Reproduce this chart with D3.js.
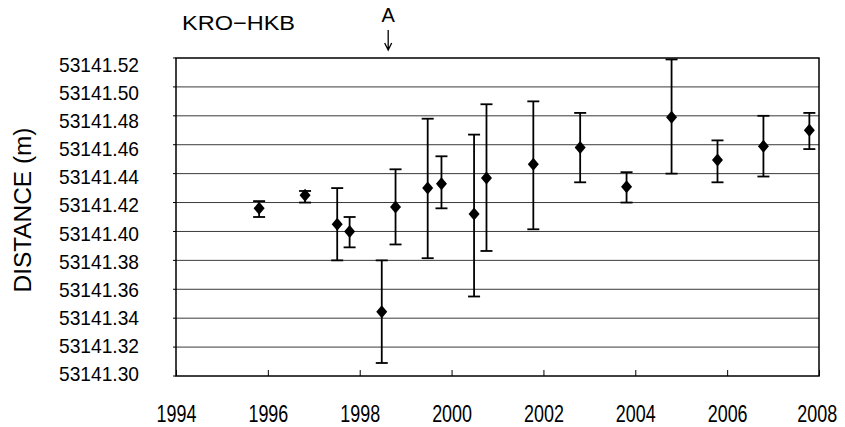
<!DOCTYPE html>
<html>
<head>
<meta charset="utf-8">
<script src="https://cdn.jsdelivr.net/npm/d3@7"></script>
<style>
  body { margin: 0; background: #fff; }
  svg { display: block; }
  text { font-family: "Liberation Sans", Arial, sans-serif; fill: #000; }
</style>
</head>
<body>
<svg id="chart" width="845" height="427"></svg>
<script>
// survey epochs (decimal year) and measured distance with error range
const years = [1995.81, 1996.81, 1997.51, 1997.78, 1998.48, 1998.78, 1999.48, 1999.78, 2000.49,
               2000.76, 2001.78, 2002.80, 2003.81, 2004.79, 2005.79, 2006.79, 2007.79];
const values = [53141.416, 53141.425, 53141.405, 53141.400, 53141.3445, 53141.417, 53141.430, 53141.433,
                53141.412, 53141.437, 53141.4465, 53141.458, 53141.431, 53141.479, 53141.4495,
                53141.459, 53141.470];
const upper = [53141.421, 53141.428, 53141.430, 53141.410, 53141.380, 53141.443, 53141.478, 53141.452,
               53141.467, 53141.488, 53141.490, 53141.482, 53141.441, 53141.519, 53141.463,
               53141.480, 53141.482];
const lower = [53141.410, 53141.420, 53141.380, 53141.389, 53141.309, 53141.391, 53141.3815, 53141.416,
               53141.355, 53141.3865, 53141.4015, 53141.434, 53141.420, 53141.440, 53141.434,
               53141.438, 53141.457];

const xTicks = [1994, 1996, 1998, 2000, 2002, 2004, 2006, 2008];
const yTicks = [53141.30, 53141.32, 53141.34, 53141.36, 53141.38, 53141.40, 53141.42,
                53141.44, 53141.46, 53141.48, 53141.50, 53141.52];
const eventYear = 1998.62;   // arrow "A"

const plot = {left: 176, right: 819, top: 58, bottom: 376};

const x = d3.scaleLinear().domain([1994, 2008]).range([plot.left, plot.right]);
const y = d3.scaleLinear().domain([53141.30, 53141.52]).range([plot.bottom, plot.top]);
// the printed tick labels sit slightly compressed against the grid
const yLab = d3.scaleLinear().domain([53141.30, 53141.52]).range([373, 64]);

const svg = d3.select('#chart');

// grid lines
svg.append('g')
    .selectAll('line')
    .data(yTicks.slice(1, -1))
    .enter()
    .append('line')
    .attr('x1', plot.left)
    .attr('x2', plot.right)
    .attr('y1', d => y(d))
    .attr('y2', d => y(d))
    .attr('stroke', '#3a3a3a')
    .attr('stroke-width', 1);

// small ticks on the left border
svg.append('g')
    .selectAll('line')
    .data(yTicks)
    .enter()
    .append('line')
    .attr('x1', plot.left - 3)
    .attr('x2', plot.left)
    .attr('y1', d => y(d))
    .attr('y2', d => y(d))
    .attr('stroke', '#000');

// x axis: ticks pointing into the plot, labels underneath (narrow glyphs)
const xAxis = svg.append('g')
    .attr('transform', `translate(0,${plot.bottom})`)
    .call(d3.axisBottom(x).tickValues(xTicks).tickFormat(d3.format('d')).tickSize(-6).tickPadding(0));
xAxis.select('.domain').remove();
xAxis.selectAll('line').attr('stroke', '#000').attr('stroke-width', 1);
xAxis.selectAll('text')
    .attr('y', 46)
    .attr('x', d => d === 2008 ? -3 : 0)
    .attr('dy', null)
    .attr('font-size', 23)
    .attr('font-family', '"Liberation Sans", Arial, sans-serif')
    .attr('transform', 'scale(0.78,1)');

// y axis labels
const yAxis = svg.append('g')
    .attr('transform', `translate(139,0)`)
    .call(d3.axisLeft(yLab).tickValues(yTicks).tickFormat(d3.format('.2f')).tickSize(0).tickPadding(0));
yAxis.select('.domain').remove();
yAxis.selectAll('text')
    .attr('dy', '7.5')
    .attr('font-size', 21)
    .attr('font-family', '"Liberation Sans", Arial, sans-serif')
    .attr('textLength', 80)
    .attr('lengthAdjust', 'spacingAndGlyphs');

// plot border
svg.append('rect')
    .attr('x', plot.left)
    .attr('y', plot.top)
    .attr('width', plot.right - plot.left)
    .attr('height', plot.bottom - plot.top)
    .attr('fill', 'none')
    .attr('stroke', '#000')
    .attr('stroke-width', 1.5);

// error bars
const idx = d3.range(years.length);
const bars = svg.append('g').attr('stroke', '#000').attr('stroke-width', 1.8);
bars.selectAll('.stem')
    .data(idx)
    .enter()
    .append('line')
    .attr('x1', i => x(years[i]))
    .attr('x2', i => x(years[i]))
    .attr('y1', i => y(upper[i]))
    .attr('y2', i => y(lower[i]));
bars.selectAll('.capTop')
    .data(idx)
    .enter()
    .append('line')
    .attr('x1', i => x(years[i]) - 6)
    .attr('x2', i => x(years[i]) + 6)
    .attr('y1', i => y(upper[i]))
    .attr('y2', i => y(upper[i]));
bars.selectAll('.capBot')
    .data(idx)
    .enter()
    .append('line')
    .attr('x1', i => x(years[i]) - 6)
    .attr('x2', i => x(years[i]) + 6)
    .attr('y1', i => y(lower[i]))
    .attr('y2', i => y(lower[i]));

// diamond markers
const diamond = (cx, cy) => {
    const p = d3.path();
    p.moveTo(cx, cy - 6.5);
    p.lineTo(cx + 5.5, cy);
    p.lineTo(cx, cy + 6.5);
    p.lineTo(cx - 5.5, cy);
    p.closePath();
    return p.toString();
};
svg.append('g')
    .selectAll('path')
    .data(idx)
    .enter()
    .append('path')
    .attr('d', i => diamond(x(years[i]), y(values[i])))
    .attr('fill', '#000');

// title
svg.append('text')
    .attr('x', 182)
    .attr('y', 30)
    .attr('font-size', 21)
    .attr('textLength', 113)
    .attr('lengthAdjust', 'spacingAndGlyphs')
    .text('KRO\u2212HKB');

// event marker "A" with arrow
const ax = x(eventYear);
svg.append('text')
    .attr('x', ax)
    .attr('y', 22)
    .attr('text-anchor', 'middle')
    .attr('font-size', 20)
    .text('A');
svg.append('path')
    .attr('d', `M${ax},30 L${ax},50 M${ax - 3.5},43 L${ax},50 L${ax + 3.5},43`)
    .attr('fill', 'none')
    .attr('stroke', '#000')
    .attr('stroke-width', 1.3);

// y axis title
svg.append('text')
    .attr('transform', 'translate(31,210) rotate(-90)')
    .attr('text-anchor', 'middle')
    .attr('font-size', 23)
    .attr('textLength', 165)
    .attr('lengthAdjust', 'spacingAndGlyphs')
    .text('DISTANCE (m)');
</script>
</body>
</html>
